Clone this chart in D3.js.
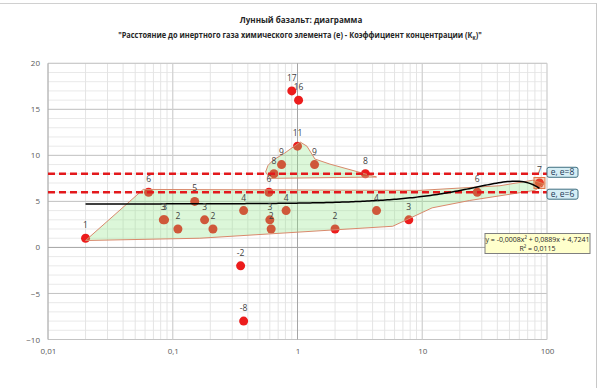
<!DOCTYPE html>
<html>
<head>
<meta charset="utf-8">
<script src="https://cdn.jsdelivr.net/npm/d3@7"></script>
<style>
  body { margin: 0; background: #fff; }
  svg text { font-family: "Open Sans", "Noto Sans", sans-serif; }
</style>
</head>
<body>
<div id="chart"></div>
<script>
const width = 600,
  height = 388,
  margin = { top: 63.3, right: 53, bottom: 48.5, left: 48 };

/* DATA */
// distance to inert gas (x) and concentration coefficient (y)
const xValues = [0.02, 0.064, 0.084, 0.086, 0.11, 0.15, 0.18, 0.21, 0.35, 0.37, 0.37, 0.59, 0.6, 0.615,
  0.647, 0.745, 0.81, 0.9, 1.0, 1.02, 1.37, 2.0, 3.5, 4.3, 7.8, 27.6, 87];
const yValues = [1, 6, 3, 3, 2, 5, 3, 2, -2, -8, 4, 6, 3, 2,
  8, 9, 4, 17, 11, 16, 9, 2, 8, 4, 3, 6, 7];

// hand drawn zones, [x, y] corners
const lowerZone = [[0.02, 0.75], [0.058, 6.3], [9.6, 6.2], [42, 6.7], [77, 7.3], [95, 6.9],
  [80, 6.2], [24, 5.1], [12, 4.3], [5.8, 2.3], [0.165, 1.0]];
const upperZone = [[0.555, 8.2], [0.58, 8.9], [0.64, 9.5], [0.79, 10.25], [1.05, 11.45], [1.19, 11],
  [1.38, 9.6], [1.82, 9.05], [4.3, 7.65], [0.6, 7.5]];

const levels = [8, 6];
const levelLabels = ["е, е=8", "е, е=6"];

// polynomial trendline as shown on the chart
const trendCoef = [-0.0008, 0.0889, 4.7241];
const trendRange = [0.02, 87];
const trendText = ["y = -0,0008x² + 0,0889x + 4,7241", "R² = 0,0115"];

const xTickValues = [0.01, 0.1, 1, 10, 100];
const xTickLabels = ["0,01", "0,1", "1", "10", "100"];
const yTickValues = [-10, -5, 0, 5, 10, 15, 20];

/* SCALES */
const xScale = d3.scaleLog()
  .domain([0.01, 100])
  .range([margin.left, width - margin.right]);

const yScale = d3.scaleLinear()
  .domain([-10, 20])
  .range([height - margin.bottom, margin.top]);

const svg = d3.select("#chart")
  .append("svg")
  .attr("width", width)
  .attr("height", height);

// window frame lines
svg.append("line").attr("x1", 0).attr("x2", 597).attr("y1", 3.5).attr("y2", 3.5)
  .attr("stroke", "#d0d0d0");
svg.append("line").attr("x1", 596.5).attr("x2", 596.5).attr("y1", 3.5).attr("y2", height)
  .attr("stroke", "#c8c8c8");

/* TITLE */
// squeeze a centred line of text horizontally to a target width
function fitLine(sel, cx, cy, target) {
  const w = sel.node().getBBox().width;
  sel.attr("transform", `translate(${cx},${cy}) scale(${target / w},1)`);
}
const title = svg.append("g").attr("font-weight", "bold").attr("fill", "#262626");
const t1 = title.append("text")
  .attr("text-anchor", "middle")
  .attr("font-size", 9.5)
  .text("Лунный базальт: диаграмма");
fitLine(t1, 301, 23, 123);
const t2 = title.append("text")
  .attr("text-anchor", "middle")
  .attr("font-size", 9.5);
t2.append("tspan").text("\"Расстояние до инертного газа химического элемента (е) - Коэффициент концентрации (К");
t2.append("tspan").attr("font-size", "70%").attr("dy", 2).text("к");
t2.append("tspan").attr("dy", -2).text(")\"");
fitLine(t2, 300, 38, 364);

/* GRID */
const grid = svg.append("g");
grid.selectAll(".ym")
  .data(yScale.ticks(30))
  .join("line")
  .attr("x1", margin.left).attr("x2", width - margin.right)
  .attr("y1", d => yScale(d)).attr("y2", d => yScale(d))
  .attr("stroke", "#e9e9e9");
grid.selectAll(".xm")
  .data(xScale.ticks())
  .join("line")
  .attr("x1", d => xScale(d)).attr("x2", d => xScale(d))
  .attr("y1", margin.top).attr("y2", height - margin.bottom)
  .attr("stroke", "#e4e4e4");
grid.selectAll(".yM")
  .data(yTickValues)
  .join("line")
  .attr("x1", margin.left).attr("x2", width - margin.right)
  .attr("y1", d => yScale(d)).attr("y2", d => yScale(d))
  .attr("stroke", d => d === 0 ? "#a6a6a6" : "#c4c4c4");
grid.selectAll(".xM")
  .data(xTickValues)
  .join("line")
  .attr("x1", d => xScale(d)).attr("x2", d => xScale(d))
  .attr("y1", margin.top).attr("y2", height - margin.bottom)
  .attr("stroke", d => (d === 1 || d === 0.01) ? "#a6a6a6" : "#cfcfcf");

/* AXES */
const yAxis = d3.axisLeft(yScale).tickValues(yTickValues).tickSize(0).tickPadding(8);
svg.append("g")
  .attr("transform", `translate(${margin.left},0)`)
  .call(yAxis)
  .call(g => g.select(".domain").remove())
  .selectAll("text")
  .attr("font-size", 8)
  .attr("fill", "#595959")
  .style("font-family", "Open Sans");

const xAxis = d3.axisBottom(xScale).tickValues(xTickValues)
  .tickFormat((d, i) => xTickLabels[i]).tickSize(0).tickPadding(9);
svg.append("g")
  .attr("transform", `translate(0,${height - margin.bottom})`)
  .call(xAxis)
  .call(g => g.select(".domain").remove())
  .selectAll("text")
  .attr("font-size", 8)
  .attr("fill", "#595959")
  .style("font-family", "Open Sans");

/* POINTS */
const points = d3.range(xValues.length);
svg.append("g")
  .selectAll("circle")
  .data(points)
  .join("circle")
  .attr("cx", i => xScale(xValues[i]))
  .attr("cy", i => yScale(yValues[i]))
  .attr("r", 4.5)
  .attr("fill", "#ec1c1c");

/* ZONES */
const zoneLine = d3.line()
  .x(d => xScale(d[0]))
  .y(d => yScale(d[1]))
  .curve(d3.curveLinearClosed);
svg.append("g")
  .selectAll("path")
  .data([lowerZone, upperZone])
  .join("path")
  .attr("d", zoneLine)
  .attr("fill", "rgba(140,230,130,0.3)")
  .attr("stroke", "#d9896c")
  .attr("stroke-width", 1);

// small box round the last point
svg.append("rect")
  .attr("x", xScale(87) - 5.5).attr("y", yScale(7) - 5.5)
  .attr("width", 11).attr("height", 11)
  .attr("fill", "rgba(230,120,60,0.35)")
  .attr("stroke", "#e07a4a");

/* LEVELS */
svg.append("g")
  .selectAll("line")
  .data(levels)
  .join("line")
  .attr("x1", margin.left).attr("x2", width - margin.right)
  .attr("y1", d => yScale(d)).attr("y2", d => yScale(d))
  .attr("stroke", "#e3191c")
  .attr("stroke-width", 2.5)
  .attr("stroke-dasharray", "7,4");

/* TRENDLINE */
const trendX = d3.range(0, 201).map(i =>
  Math.pow(10, Math.log10(trendRange[0]) + i / 200 * (Math.log10(trendRange[1]) - Math.log10(trendRange[0]))));
const trend = x => trendCoef[0] * x * x + trendCoef[1] * x + trendCoef[2];
svg.append("path")
  .datum(trendX)
  .attr("d", d3.line().x(d => xScale(d)).y(d => yScale(trend(d))))
  .attr("fill", "none")
  .attr("stroke", "#000")
  .attr("stroke-width", 1.5);

/* LABELS */
svg.append("g")
  .selectAll("text")
  .data(points)
  .join("text")
  .attr("x", i => xScale(xValues[i]))
  .attr("y", i => yScale(yValues[i]) - 10)
  .attr("text-anchor", "middle")
  .attr("font-size", 8.5)
  .attr("fill", "#404040")
  .text(i => yValues[i]);

// level callouts
const callouts = svg.append("g")
  .selectAll("g")
  .data(levels)
  .join("g")
  .attr("transform", d => `translate(${width - margin.right},${yScale(d)})`);
callouts.append("rect")
  .attr("x", 0).attr("y", (d, i) => i === 0 ? -6.5 : -3)
  .attr("width", 31).attr("height", 10)
  .attr("rx", 2)
  .attr("fill", "#d6eef5")
  .attr("stroke", "#3f6f80");
callouts.append("text")
  .attr("x", 15.5).attr("y", (d, i) => i === 0 ? 1.5 : 5)
  .attr("text-anchor", "middle")
  .attr("font-size", 8.5)
  .attr("fill", "#1f3b57")
  .text((d, i) => levelLabels[i]);

// trendline equation box
const eq = svg.append("g").attr("transform", "translate(485,233.5)");
eq.append("rect")
  .attr("width", 105).attr("height", 20)
  .attr("fill", "#ffffcc")
  .attr("stroke", "#7f7f7f");
eq.selectAll("text")
  .data(trendText)
  .join("text")
  .attr("x", 52.5).attr("y", (d, i) => 8 + i * 9)
  .attr("text-anchor", "middle")
  .attr("font-size", 7)
  .attr("fill", "#262626")
  .text(d => d);
</script>
</body>
</html>
